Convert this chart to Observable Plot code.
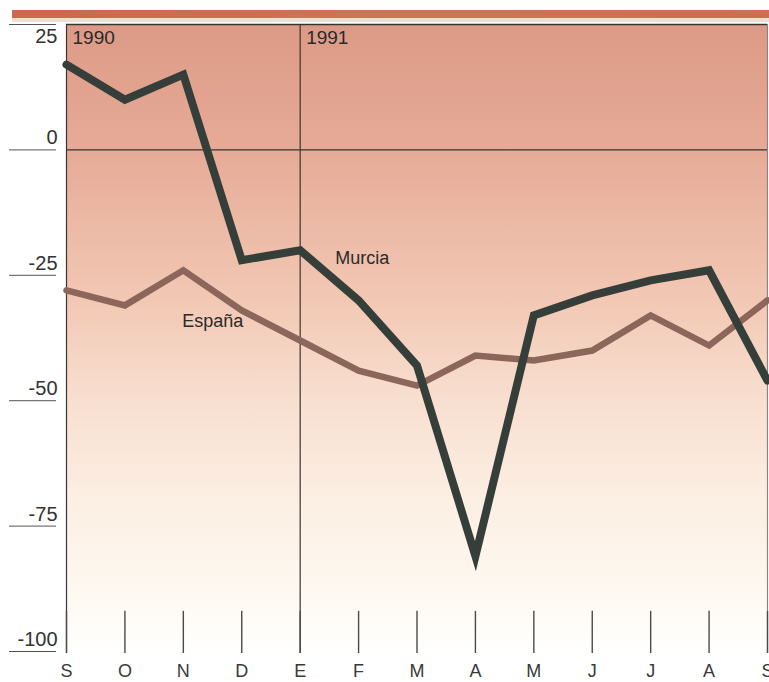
<!DOCTYPE html>
<html>
<head>
<meta charset="utf-8">
<script src="https://cdn.jsdelivr.net/npm/d3@7"></script>
<script src="https://cdn.jsdelivr.net/npm/@observablehq/plot@0.6"></script>
<style>
  html, body { margin: 0; padding: 0; background: #ffffff; }
  #chart svg { display: block; }
</style>
</head>
<body>
<div id="chart"></div>
<script>
// Month initials, September 1990 to September 1991
const months = ["S", "O", "N", "D", "E", "F", "M", "A", "M", "J", "J", "A", "S"];
// Series values per month
const murcia = [17, 10, 15, -22, -20, -30, -43, -81, -33, -29, -26, -24, -46];
const espana = [-28, -31, -24, -32, -38, -44, -47, -41, -42, -40, -33, -39, -30];
// Year markers and the month index where each starts
const years = ["1990", "1991"];
const yearStart = [0, 4];
// Y axis ticks
const yTicks = [25, 0, -25, -50, -75, -100];
const yTicksLower = [0, -25, -50, -75, -100];
const yTickTop = [25];

const idx = months.map((_, i) => i);
const font = "'Liberation Sans', Arial, Helvetica, sans-serif";

// Background gradient and the colored band above the chart
function decor(index, scales, values, dims) {
  const g = d3.create("svg:g");
  const defs = g.append("defs");
  const bg = defs.append("linearGradient").attr("id", "bgfade")
    .attr("x1", 0).attr("y1", 0).attr("x2", 0).attr("y2", 1);
  [[0, "#dc9a86"], [0.2, "#e6ab97"], [0.44, "#f2c8b4"], [0.6, "#f8dfd0"],
   [0.76, "#fcefe3"], [0.9, "#fef8f0"], [1, "#ffffff"]]
    .forEach(([o, c]) => bg.append("stop").attr("offset", o).attr("stop-color", c));
  const band = defs.append("linearGradient").attr("id", "band")
    .attr("x1", 0).attr("y1", 0).attr("x2", 1).attr("y2", 0);
  [[0, "#c9694d"], [0.5, "#cd7457"], [1, "#cc6f52"]]
    .forEach(([o, c]) => band.append("stop").attr("offset", o).attr("stop-color", c));
  const yTop = scales.y(25);
  g.append("rect").attr("x", 12).attr("y", yTop - 14).attr("width", dims.width - 12)
    .attr("height", 8).attr("fill", "url(#band)");
  g.append("rect").attr("x", 12).attr("y", yTop - 6).attr("width", dims.width - 12)
    .attr("height", 4).attr("fill", "#f3ddd0");
  return g.node();
}

const plot = Plot.plot({
  width: 769,
  height: 682,
  marginLeft: 66,
  marginRight: 2,
  marginTop: 24,
  marginBottom: 31,
  style: { fontFamily: font, fontSize: "17px", color: "#2b2b2b", background: "#ffffff" },
  x: { type: "linear", domain: [0, 12], range: [66, 767] },
  y: { domain: [-100, 25], range: [651, 24] },
  marks: [
    decor,
    Plot.rect([0], { x1: 0, x2: 12, y1: -100, y2: 25, fill: "url(#bgfade)" }),
    // year boundary and frame verticals
    Plot.ruleX([0, 4], { y1: 25, y2: -100, insetBottom: -2, stroke: "#3a3434", strokeWidth: 1.2 }),
    Plot.ruleX([12], { y1: 25, y2: -100, insetBottom: -2, stroke: "#8a8480", strokeWidth: 1.2 }),
    Plot.ruleY([25, 0], { stroke: "#3a3232", strokeWidth: 1.3 }),
    // month ticks
    Plot.ruleX(idx, { y1: -92, y2: -100, insetBottom: -2, stroke: "#4a4a4a", strokeWidth: 1.4 }),
    // y tick rules in the left margin
    Plot.axisY({
      ticks: yTicks, tickFormat: () => "", tickSize: 47, dx: -10, stroke: "#555"
    }),
    // y tick labels: above their rule, except the top one which sits below it
    Plot.axisY({
      ticks: yTicksLower, tickFormat: d => String(d), tickSize: 0, tickPadding: 9,
      textAnchor: "end", dy: -12, fontSize: 20, fill: "#333"
    }),
    Plot.axisY({
      ticks: yTickTop, tickFormat: d => String(d), tickSize: 0, tickPadding: 9,
      textAnchor: "end", dy: 12, fontSize: 20, fill: "#333"
    }),
    Plot.axisX({
      ticks: idx, tickFormat: i => months[i], tickSize: 0, tickPadding: 13,
      fontSize: 18, fill: "#3a3a3a"
    }),
    Plot.text(years, {
      x: (d, i) => yearStart[i], y: 25, text: d => d, textAnchor: "start",
      dx: 6, dy: 13, fontSize: 19, fill: "#2a2a2a"
    }),
    Plot.line(espana, {
      x: (d, i) => i, y: d => d, stroke: "#8c665b", strokeWidth: 6.5,
      strokeLinejoin: "miter", strokeMiterlimit: 4
    }),
    Plot.line(murcia, {
      x: (d, i) => i, y: d => d, stroke: "#363e39", strokeWidth: 8,
      strokeLinejoin: "miter", strokeMiterlimit: 4
    }),
    Plot.text(["Murcia"], {
      x: 4, y: murcia[4], text: d => d, textAnchor: "start",
      dx: 35, dy: 8, fontSize: 18, fill: "#2a2a2a"
    }),
    Plot.text(["España"], {
      x: 3, y: espana[3], text: d => d, textAnchor: "middle",
      dx: -29, dy: 11, fontSize: 18, fill: "#2a2a2a"
    })
  ]
});

document.getElementById("chart").appendChild(plot);
</script>
</body>
</html>
